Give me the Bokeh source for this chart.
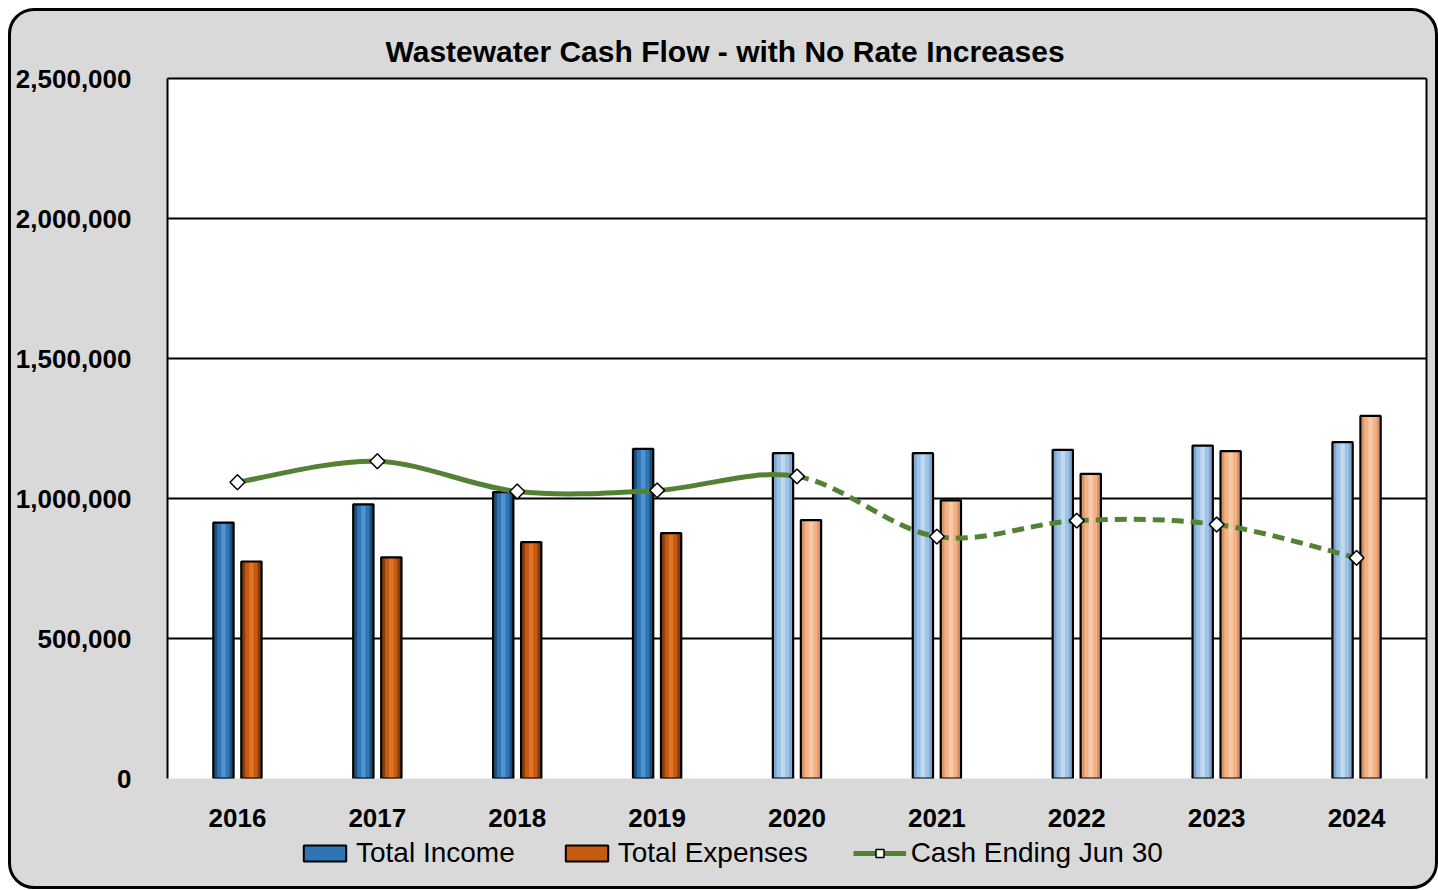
from bokeh.plotting import figure
from bokeh.models import (ColumnDataSource, FixedTicker, NumeralTickFormatter,
                          Legend, LegendItem, Range1d, LinearAxis, Column)
from bokeh.transform import dodge
from bokeh.embed import file_html
from bokeh.resources import INLINE

# ---------------- data ----------------
years = ["2016", "2017", "2018", "2019", "2020", "2021", "2022", "2023", "2024"]
total_income = [914000, 979000, 1023000, 1177000, 1162000, 1162000, 1174000, 1189000, 1201000]
total_expenses = [775000, 790000, 844000, 876000, 923000, 993000, 1088000, 1169000, 1295000]
cash_ending = [1058000, 1133000, 1025000, 1029000, 1079000, 864000, 921000, 907000, 788000]
projected = [False, False, False, False, True, True, True, True, True]
y_ticks = [0, 500000, 1000000, 1500000, 2000000, 2500000]
title_text = "Wastewater Cash Flow - with No Rate Increases"
legend_labels = ["Total Income", "Total Expenses", "Cash Ending Jun 30"]

# ---------------- style ----------------
FONT = "Liberation Sans"
INC = {"edge": ("#1F4E79", "#7FA7CF"), "mid": ("#2E75B6", "#9DC3E6"), "hi": ("#5B9BD5", "#C9DFF2")}
EXP = {"edge": ("#843C0C", "#D6956A"), "mid": ("#C55A11", "#F4B183"), "hi": ("#E57B30", "#F9D0B2")}
GREEN = "#548235"
LINE_W = 5
MARK = dict(marker="square", angle=0.785398, size=10.5, fill_color="white",
            line_color="black", line_width=1.5)

xs = list(range(len(years)))


def pick(pal, key):
    return [pal[key][1] if pr else pal[key][0] for pr in projected]


src = ColumnDataSource(dict(
    x=xs, year=years, income=total_income, expenses=total_expenses, cash=cash_ending,
    inc_edge=pick(INC, "edge"), inc_mid=pick(INC, "mid"), inc_hi=pick(INC, "hi"),
    exp_edge=pick(EXP, "edge"), exp_mid=pick(EXP, "mid"), exp_hi=pick(EXP, "hi"),
))

FULL_W = 1424
p = figure(frame_width=1259, frame_height=700,
           x_range=Range1d(-0.5, len(years) - 0.5),
           y_range=Range1d(y_ticks[0], y_ticks[-1]),
           output_backend="svg", toolbar_location=None,
           min_border_left=156, min_border_right=9, min_border_top=67, min_border_bottom=61)
p.border_fill_color = None
p.background_fill_color = "white"
p.outline_line_color = None

# title
p.title.text = title_text
p.title.align = "left"
p.title.offset = 218
p.title.text_font = FONT
p.title.text_font_size = "30px"
p.title.text_font_style = "bold"
p.title.text_color = "black"
p.title.standoff = 22

# grid
p.xgrid.visible = False
p.ygrid.ticker = FixedTicker(ticks=y_ticks[1:-1])
p.ygrid.grid_line_color = "black"
p.ygrid.grid_line_width = 2

# axes
p.yaxis.ticker = FixedTicker(ticks=y_ticks)
p.yaxis.formatter = NumeralTickFormatter(format="0,0")
p.yaxis.axis_line_color = "black"
p.yaxis.axis_line_width = 2
p.yaxis.major_tick_out = 0
p.yaxis.major_tick_in = 0
p.yaxis.minor_tick_line_color = None
p.yaxis.major_label_standoff = 36
p.yaxis.major_label_text_font = FONT
p.yaxis.major_label_text_font_size = "26px"
p.yaxis.major_label_text_font_style = "bold"
p.yaxis.major_label_text_color = "black"

p.xaxis.ticker = FixedTicker(ticks=xs)
p.xaxis.major_label_overrides = {i: y for i, y in zip(xs, years)}
p.xaxis.axis_line_color = None
p.xaxis.major_tick_out = 0
p.xaxis.major_tick_in = 0
p.xaxis.minor_tick_line_color = None
p.xaxis.major_label_standoff = 30
p.xaxis.major_label_text_font = FONT
p.xaxis.major_label_text_font_size = "26px"
p.xaxis.major_label_text_font_style = "bold"
p.xaxis.major_label_text_color = "black"

# frame lines on top and right (plain axes without ticks or labels)
for side in ("above", "right"):
    ax = LinearAxis(ticker=FixedTicker(ticks=[]), axis_line_color="black", axis_line_width=2,
                    major_tick_out=0, major_tick_in=0, minor_tick_out=0, minor_tick_in=0,
                    major_label_standoff=0, major_label_text_font_size="0px")
    p.add_layout(ax, side)

# bars (cylinder-like shading with stacked stripes)
BW = 0.145
OFF = 0.1
for key, field, pre in (("inc", "income", -OFF), ("exp", "expenses", OFF)):
    xd = dodge("x", pre, range=p.x_range)
    p.vbar(x=xd, top=field, bottom=0, width=BW, source=src,
           fill_color=key + "_edge", line_color=None)
    p.vbar(x=xd, top=field, bottom=0, width=BW * 0.62, source=src,
           fill_color=key + "_mid", line_color=None)
    p.vbar(x=xd, top=field, bottom=0, width=BW * 0.22, source=src,
           fill_color=key + "_hi", fill_alpha=0.8, line_color=None)
    p.vbar(x=xd, top=field, bottom=0, width=BW, source=src,
           fill_color=None, line_color="black", line_width=2.2)

# smoothed cash line (bezier segments through the data points)
P = list(zip(xs, cash_ending))
n = len(P)
seg = {False: dict(x0=[], y0=[], x1=[], y1=[], cx0=[], cy0=[], cx1=[], cy1=[]),
       True: dict(x0=[], y0=[], x1=[], y1=[], cx0=[], cy0=[], cx1=[], cy1=[])}
for i in range(n - 1):
    p0 = P[i - 1] if i > 0 else P[i]
    p1, p2 = P[i], P[i + 1]
    p3 = P[i + 2] if i + 2 < n else P[i + 1]
    d = seg[projected[i]]
    d["x0"].append(p1[0]); d["y0"].append(p1[1])
    d["x1"].append(p2[0]); d["y1"].append(p2[1])
    d["cx0"].append(p1[0] + (p2[0] - p0[0]) / 6); d["cy0"].append(p1[1] + (p2[1] - p0[1]) / 6)
    d["cx1"].append(p2[0] - (p3[0] - p1[0]) / 6); d["cy1"].append(p2[1] - (p3[1] - p1[1]) / 6)

p.bezier(source=ColumnDataSource(seg[False]), x0="x0", y0="y0", x1="x1", y1="y1",
         cx0="cx0", cy0="cy0", cx1="cx1", cy1="cy1", line_color=GREEN, line_width=LINE_W)
p.bezier(source=ColumnDataSource(seg[True]), x0="x0", y0="y0", x1="x1", y1="y1",
         cx0="cx0", cy0="cy0", cx1="cx1", cy1="cy1", line_color=GREEN, line_width=LINE_W,
         line_dash="12 7")
p.scatter(x="x", y="cash", source=src, **MARK)

# ---------------- legend strip (separate small figure under the chart) ----------------
LEG_H = 55
q = figure(width=FULL_W, height=LEG_H, x_range=Range1d(-0.5, len(years) - 0.5),
           y_range=Range1d(0, 1),
           output_backend="svg", toolbar_location=None, x_axis_type=None, y_axis_type=None,
           min_border=0)
q.grid.visible = False
q.outline_line_color = None
q.background_fill_color = None
q.border_fill_color = None
q.styles = {"margin-top": "-8px"}

# hidden legend proxies that share the chart's data (never drawn in the strip)
r_inc = q.vbar(x="x", top="income", width=BW, source=src, visible=False,
               fill_color=INC["mid"][0], line_color="black", line_width=2)
r_exp = q.vbar(x="x", top="expenses", width=BW, source=src, visible=False,
               fill_color=EXP["mid"][0], line_color="black", line_width=2)
r_line = q.line(x="x", y="cash", source=src, visible=False, line_color=GREEN, line_width=LINE_W)
r_mark = q.scatter(x="x", y="cash", source=src, visible=False, **MARK)

legend = Legend(items=[
    LegendItem(label=legend_labels[0], renderers=[r_inc]),
    LegendItem(label=legend_labels[1], renderers=[r_exp]),
    LegendItem(label=legend_labels[2], renderers=[r_line, r_mark]),
], orientation="horizontal", location=(131, 17), click_policy="none",
    border_line_color=None, background_fill_alpha=0,
    label_text_font=FONT, label_text_font_size="28px", label_text_color="black",
    glyph_width=53, glyph_height=20, spacing=45, padding=0, margin=0,
    label_standoff=5)
q.add_layout(legend, "center")

layout = Column(p, q, spacing=0,
                styles={"border": "3px solid black", "border-radius": "26px",
                        "background-color": "#D9D9D9", "overflow": "hidden",
                        "margin-left": "8px", "margin-top": "8px"})

open("out.html", "w").write(file_html(layout, INLINE))
